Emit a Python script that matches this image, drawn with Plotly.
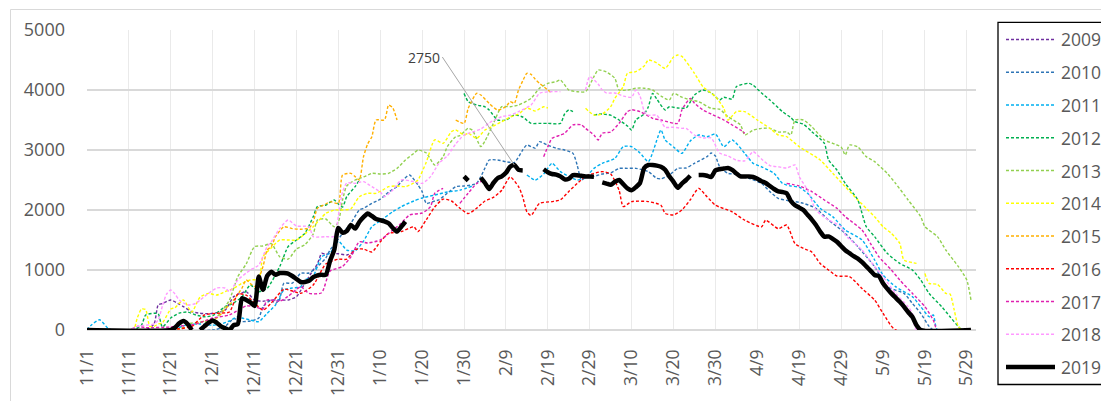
import plotly.graph_objects as go

# ---------------- data (day offset from 11/1, value) ----------------
tick_days = [0, 10, 20, 30, 40, 50, 60, 70, 80, 90, 100, 110, 120, 130, 140, 150, 160, 170, 180, 190, 200, 210]
tick_labels = ["11/1", "11/11", "11/21", "12/1", "12/11", "12/21", "12/31", "1/10", "1/20", "1/30", "2/9",
               "2/19", "2/29", "3/10", "3/20", "3/30", "4/9", "4/19", "4/29", "5/9", "5/19", "5/29"]

s2009 = [(0,0),(14,0),(16,100),(17,420),(18,440),(20,500),(22,430),(23,390),(25,306),(27,280),(29,270),(31,290),
         (33,333),(35,556),(37,620),(38,640),(40,500),(42,480),(44,500),(46,500),(48,500),(50,556),(52,778),(54,1000),
         (55,1100),(56,1278),(57,1260),(58,1280),(60,1270),(62,1250),(64,1300)]

s2010 = [(0,0),(30,0),(33,60),(35,190),(37,140),(39,150),(41,200),(42,389),(44,500),(45,440),(46,520),(47,778),
         (49,780),(51,944),(53,950),(55,1056),(57,1200),(58,1333),(59,1420),(61,1610),(63,1780),(65,2000),(66,2028),
         (68,2111),(70,2180),(72,2300),(74,2389),(75,2472),(77,2583),(79,2417),(80,2306),(81,2111),(83,2150),(84,2170),
         (86,2278),(88,2389),(90,2400),(92,2420),(93,2444),(94,2556),(95,2700),(96,2833),(98,2833),(100,2806),
         (102,2790),(104,3000),(105,3083),(107,3030),(108,3139),(110,3080),(112,3028),(114,3000),(116,2944),
         (117,2750),(118,2500),(119,2540),(121,2560),(123,2600),(125,2620),(127,2694),(129,2694),(131,2694),
         (134,2639),(136,2528),(137,2520),(139,2580),(141,2694),(143,2700),(145,2778),(148,2889),(149,2950),
         (150,2900),(151,2722),(153,2611),(156,2590),(158,2528),(161,2444),(163,2306),(165,2194),(167,2160),
         (169,2140),(171,2111),(174,2028),(177,1833),(181,1611),(184,1389),(188,1056),(191,722),(195,611),
         (197,444),(199,278),(201,60),(202,0),(211,0)]

s2011 = [(0,0),(1,80),(3,170),(5,30),(6,0),(20,0),(24,90),(27,100),(30,80),(32,100),(34,150),(36,222),(37,200),
         (39,167),(41,139),(43,278),(45,417),(47,667),(49,700),(51,720),(52,833),(54,900),(56,1222),(58,1278),
         (60,1480),(62,1333),(64,1320),(66,1480),(68,1722),(70,1820),(73,1972),(75,2056),(78,2150),(80,2200),
         (83,2250),(86,2300),(89,2330),(92,2400),(93,None),(105,2583),(107,2500),(109,2600),(111,2778),(113,2639),
         (115,2560),(117,2500),(119,2540),(121,2694),(123,2778),(126,2861),(128,3056),(130,3056),(132,2950),
         (134,2806),(137,3333),(138,3167),(140,3050),(142,2944),(144,3150),(146,3250),(148,3220),(150,3267),
         (152,3056),(154,3167),(157,2944),(159,2778),(161,2720),(164,2611),(166,2444),(168,2400),(170,2380),
         (172,2278),(175,2028),(178,1889),(181,1667),(185,1500),(188,1167),(190,917),(193,722),(197,556),
         (199,389),(201,222),(202,250),(203,0),(211,0)]

s2012 = [(0,0),(11,0),(13,80),(14,250),(16,280),(17,270),(18,50),(20,200),(22,280),(24,300),(26,250),(28,220),
         (30,240),(33,389),(35,450),(37,556),(39,750),(41,639),(43,694),(46,1056),(48,1389),(50,1500),(52,1611),
         (54,1889),(55,2056),(57,2083),(59,2167),(60,2100),(61,2050),(62,2222),(64,2389),(65,2500),(66,None),
         (90,3944),(91,3806),(93,3750),(95,3720),(96,3667),(98,3500),(100,3500),(102,3583),(104,3550),(106,3444),
         (108,3444),(110,3444),(113,3444),(114,3600),(115,3667),(116,3639),(117,None),(121,3583),(123,3600),
         (125,3580),(127,3500),(129,3400),(130,3333),(131,3500),(133,3600),(134,3722),(135,3944),(136,3850),
         (138,3667),(139,3720),(141,3700),(143,3700),(144,3800),(145,3917),(147,4000),(149,3950),(151,3833),
         (152,3880),(154,3850),(155,4056),(158,4111),(159,4080),(161,3950),(163,3833),(166,3639),(168,3540),
         (169,3472),(171,3430),(173,3306),(176,3111),(177,2833),(179,2667),(181,2444),(184,2167),(185,1944),
         (186,1722),(188,1556),(191,1278),(194,1111),(197,1000),(199,833),(201,611),(204,389),(206,222),(208,56),
         (209,0),(211,0)]

s2013 = [(0,0),(22,0),(24,100),(27,130),(30,150),(32,300),(34,500),(36,890),(38,1100),(40,1390),(42,1400),
         (44,1440),(46,1220),(48,1180),(50,1350),(52,1420),(54,1600),(55,1833),(57,1850),(59,1720),(60,1800),
         (61,2167),(62,2400),(64,2500),(66,2550),(68,2611),(70,2600),(72,2611),(74,2694),(76,2833),(78,2944),
         (79,3000),(81,2950),(83,2750),(85,2889),(86,3056),(88,3222),(89,3240),(91,3361),(92,3330),(94,3056),
         (95,3150),(97,3444),(99,3722),(101,3720),(103,3750),(106,3861),(108,4028),(110,4111),(112,4139),
         (113,4167),(115,4000),(117,3972),(119,3972),(121,4222),(122,4333),(124,4300),(126,4194),(127,4000),
         (129,4000),(131,4030),(133,4030),(135,4000),(137,3900),(139,3833),(140,3944),(142,3880),(144,3833),
         (146,3806),(149,3694),(151,3680),(153,3556),(156,3417),(157,3250),(159,3330),(161,3361),(163,3361),
         (165,3300),(167,3300),(168,3250),(169,3500),(171,3500),(173,3389),(176,3167),(178,3111),(180,3050),
         (181,2917),(182,3083),(184,3050),(186,2889),(188,2806),(191,2611),(193,2444),(196,2167),(199,1889),
         (200,1722),(203,1556),(205,1333),(208,1056),(210,833),(211,500)]

s2014 = [(0,0),(11,0),(12,200),(13,350),(14,340),(15,60),(16,60),(17,100),(18,120),(20,350),(21,370),(23,500),
         (25,300),(27,550),(29,610),(31,583),(33,640),(35,694),(37,780),(39,833),(41,850),(42,1220),(44,1370),
         (46,1500),(48,1500),(50,1500),(52,1600),(54,1722),(57,1944),(59,2000),(61,2000),(63,2020),(65,2222),
         (67,2278),(69,2278),(71,2350),(72,2389),(74,2400),(76,2390),(78,2450),(79,2500),(81,2800),(83,3170),
         (85,3111),(87,3306),(88,3333),(90,3250),(91,3280),(93,3194),(95,3333),(97,3400),(99,3472),(101,3550),
         (103,3600),(105,3700),(107,3650),(109,3720),(110,3700),(111,None),(119,3694),(121,3583),(123,3600),
         (125,3722),(126,3861),(128,4056),(129,4278),(131,4306),(133,4400),(134,4500),(136,4450),(138,4361),
         (140,4550),(141,4583),(142,4560),(145,4278),(147,4056),(150,3889),(152,3694),(153,3500),(155,3639),
         (157,3639),(160,3500),(163,3361),(165,3250),(167,3222),(170,3056),(175,2833),(178,2611),(181,2389),
         (184,2167),(186,2028),(188,1889),(190,1722),(192,1611),(194,1444),(195,1167),(198,1111),(199,None),
         (200,944),(201,778),(203,760),(205,611),(206,600),(207,333),(208,56),(209,0),(211,0)]

s2015 = [(0,0),(20,0),(24,50),(28,150),(31,200),(33,350),(35,500),(37,700),(38,833),(40,722),(42,1056),(43,1333),
         (44,1389),(45,1556),(47,1720),(49,1690),(51,1680),(53,1700),(54,1800),(55,2028),(57,2100),(58,2139),
         (60,2111),(61,2583),(63,2611),(64,2556),(65,2500),(66,2889),(67,3100),(68,3222),(69,3500),(71,3500),
         (72,3750),(73,3700),(74,3500),(75,None),(88,3500),(90,3444),(91,3694),(93,3944),(94,3917),(96,3778),
         (98,3667),(100,3722),(101,3806),(102,3778),(103,4000),(104,4150),(105,4278),(106,4260),(107,4180),
         (108,4111),(110,4000),(111,3944)]

s2016 = [(0,0),(18,0),(22,20),(25,60),(28,250),(31,280),(34,300),(36,600),(38,580),(40,450),(42,330),(44,450),
         (47,680),(49,650),(51,610),(54,750),(57,1100),(60,1180),(62,1180),(64,1340),(66,1350),(68,1300),(70,1470),
         (72,1610),(75,1640),(78,1720),(79,1640),(81,1840),(83,2050),(85,2180),(87,2150),(89,2030),(91,1940),
         (93,2030),(95,2150),(97,2210),(99,2330),(101,2550),(103,2390),(104,2220),(105,1970),(106,1910),(108,2110),
         (111,2140),(113,2170),(115,2310),(117,2440),(119,2560),(121,2610),(123,2640),(125,2600),(127,2330),
         (128,2056),(130,2140),(134,2140),(137,2080),(138,1944),(140,1917),(142,2000),(144,2170),(146,2360),
         (148,2220),(150,2080),(154,1970),(157,1830),(161,1720),(162,1830),(165,1690),(167,1750),(169,1440),
         (171,1360),(173,1300),(175,1110),(177,1000),(179,900),(182,890),(185,690),(188,500),(190,280),(193,0),
         (211,0)]

s2017 = [(0,0),(10,0),(12,60),(14,40),(20,50),(26,100),(30,200),(34,250),(38,400),(40,390),(42,350),(43,500),
         (46,480),(48,560),(51,720),(53,610),(56,620),(58,980),(61,1060),(63,1220),(65,1470),(67,1450),(70,1500),
         (72,1610),(75,1780),(77,1917),(80,1950),(82,2056),(83,2278),(85,2361),(86,None),(89,2111),(91,2280),
         (93,2440),(95,2500),(96,None),(109,2889),(110,3056),(111,3194),(113,3250),(114,3280),(116,3417),
         (118,3420),(119,3361),(121,3250),(122,3167),(123,3280),(125,3300),(127,3444),(129,3639),(130,3670),
         (132,3640),(135,3528),(137,3500),(141,3444),(142,3667),(144,3861),(145,3780),(147,3667),(149,3600),
         (152,3500),(154,3417),(156,3333),(157,3278),(158,None),(167,2444),(170,2400),(173,2306),(176,2167),
         (179,2028),(181,1889),(185,1667),(187,1444),(189,1222),(192,1000),(194,833),(197,611),(200,389),
         (202,167),(203,0),(211,0)]

s2018 = [(0,0),(10,0),(12,60),(14,80),(16,100),(17,167),(18,400),(19,600),(20,667),(21,600),(22,500),(24,417),
         (26,444),(27,500),(29,610),(31,700),(33,700),(34,640),(36,833),(38,950),(39,1000),(41,1083),(43,1389),
         (44,1472),(46,1694),(48,1833),(50,1733),(53,1722),(54,1556),(57,1556),(59,1560),(60,1900),(61,2300),
         (62,2450),(64,2444),(66,2472),(68,2389),(70,2300),(71,2222),(73,2333),(75,2500),(78,2472),(80,2444),
         (82,2556),(84,2778),(86,2900),(88,3100),(90,3250),(92,3300),(94,3350),(96,3450),(99,3556),(101,3580),
         (103,3639),(106,3750),(108,3944),(110,3970),(113,3972),(114,None),(119,4000),(120,4222),(122,4100),
         (123,4000),(124,3950),(126,3950),(128,3900),(130,3880),(131,4000),(132,3900),(133,3650),(134,3580),
         (136,3580),(138,3380),(140,3380),(142,3361),(143,3361),(145,3250),(147,3200),(149,3200),(151,2950),
         (153,2900),(155,2830),(157,2820),(159,2972),(161,2850),(163,2740),(165,2720),(167,2700),(169,2750),
         (170,2556),(172,2333),(174,2000),(177,1833),(180,1722),(181,1583),(185,1333),(188,1056),(190,889),
         (193,611),(196,389),(197,278),(198,0),(211,0)]

s2019 = [(0,0),(20,0),(21,40),(22,110),(23,150),(24,100),(25,0),(26,None),(27,0),(28,60),(29,120),(30,160),
         (31,120),(32,60),(33,30),(34,0),(35,80),(36,100),(37,530),(38,500),(39,460),(40,400),(41,890),(42,670),
         (43,900),(44,970),(45,920),(46,950),(47,950),(48,940),(49,900),(50,850),(51,800),(52,800),(53,820),
         (54,880),(55,910),(56,920),(57,920),(58,1150),(59,1330),(60,1700),(61,1620),(62,1650),(63,1750),(64,1690),
         (65,1800),(66,1880),(67,1940),(68,1900),(69,1850),(70,1830),(71,1810),(72,1780),(73,1700),(74,1640),
         (75,1720),(76,1806),(77,None),(90,2560),(91,2490),(92,None),(94,2540),(95,2450),(96,2350),(97,2450),
         (98,2530),(99,2560),(100,2620),(101,2720),(102,2750),(103,2670),(104,2660),(105,None),(109,2680),
         (110,2630),(111,2600),(112,2590),(113,2560),(114,2510),(115,2520),(116,2580),(117,2580),(118,2570),
         (119,2560),(120,2560),(121,2556),(122,None),(123,2460),(124,2440),(125,2420),(126,2470),(127,2500),
         (128,2430),(129,2360),(130,2330),(131,2380),(132,2450),(133,2700),(134,2750),(135,2750),(136,2740),
         (137,2720),(138,2670),(139,2560),(140,2470),(141,2370),(142,2440),(143,2500),(144,2570),(145,None),
         (146,2583),(147,2583),(148,2570),(149,2550),(150,2660),(151,2680),(152,2690),(153,2700),(154,2670),
         (155,2610),(156,2560),(157,2560),(158,2560),(159,2550),(160,2520),(161,2480),(162,2450),(163,2400),
         (164,2350),(165,2310),(166,2300),(167,2280),(168,2150),(169,2080),(170,2040),(171,2000),(172,1920),
         (173,1840),(174,1750),(175,1640),(176,1556),(177,1560),(178,1520),(179,1470),(180,1400),(181,1330),
         (182,1280),(183,1230),(184,1190),(185,1130),(186,1060),(187,990),(188,917),(189,900),(190,780),(191,690),
         (192,610),(193,540),(194,470),(195,390),(196,300),(197,220),(198,80),(199,0),(211,0)]

series_names = ["2009", "2010", "2011", "2012", "2013", "2014", "2015", "2016", "2017", "2018", "2019"]
series_data = [s2009, s2010, s2011, s2012, s2013, s2014, s2015, s2016, s2017, s2018, s2019]
series_colors = ["#7030A0", "#2E75B6", "#00B0F0", "#00B050", "#92D050", "#FFFF00", "#FFB000",
                 "#FF0000", "#E020B0", "#FF99FF", "#000000"]

callout_day, callout_value = 102, 2750

# ---------------- figure ----------------
OFF = 8  # page body margin offset of the rendered figure
W, H = 1109 - OFF, 401 - OFF
L, T = 87 - OFF, 30 - OFF
pw, ph = 889, 300
R, B = W - L - pw, H - T - ph

def px(xs):  # screen x -> paper
    return (xs - OFF - L) / pw

def py(ys):  # screen y -> paper
    return (T + ph - (ys - OFF)) / ph

TXT = "#595959"
FONT = "Open Sans"

fig = go.Figure()
for name, data, col in zip(series_names, series_data, series_colors):
    xs = [d for d, v in data]
    ys = [v for d, v in data]
    bold = name == "2019"
    fig.add_trace(go.Scatter(
        x=xs, y=ys, mode="lines", name=name, connectgaps=False, showlegend=False,
        line=dict(color=col, width=4.5 if bold else 1.4, dash="solid" if bold else "3px,2px",
                  shape="spline", smoothing=0.6),
    ))

shapes = []
annotations = []
# outer chart border
shapes.append(dict(type="rect", xref="paper", yref="paper", x0=px(10.5), x1=px(1130), y0=py(420), y1=py(9.5),
                   line=dict(color="#D9D9D9", width=1), fillcolor="rgba(0,0,0,0)", layer="below"))
# legend box
shapes.append(dict(type="rect", xref="paper", yref="paper", x0=px(998), x1=px(1107.3), y0=py(384.5), y1=py(22.3),
                   line=dict(color="#000000", width=1.3), fillcolor="rgba(0,0,0,0)"))
for i, (name, col) in enumerate(zip(series_names, series_colors)):
    yy = py(39.5 + 32.75 * i)
    bold = name == "2019"
    shapes.append(dict(type="line", xref="paper", yref="paper", x0=px(1006), x1=px(1055), y0=yy, y1=yy,
                       line=dict(color=col, width=4.5 if bold else 1.4, dash="solid" if bold else "3px,2px")))
    annotations.append(dict(xref="paper", yref="paper", x=px(1059), y=yy, text=name, showarrow=False,
                            xanchor="left", yanchor="middle", font=dict(family=FONT, size=17.5, color=TXT)))

annotations.append(dict(x=callout_day, y=callout_value, xref="x", yref="y", text=str(callout_value),
                        showarrow=True, arrowhead=0, arrowwidth=1, arrowcolor="#A6A6A6", standoff=0,
                        ax=-72, ay=-108, xanchor="right", yanchor="middle",
                        font=dict(family=FONT, size=14, color="#404040")))

fig.update_layout(
    width=W, height=H, margin=dict(l=L, r=R, t=T, b=B, autoexpand=False),
    paper_bgcolor="white", plot_bgcolor="white",
    font=dict(family=FONT, color=TXT),
    shapes=shapes, annotations=annotations, showlegend=False,
    xaxis=dict(range=[0, 212.2], tickmode="array", tickvals=tick_days, ticktext=tick_labels, tickangle=-90,
               showgrid=True, gridcolor="#EAEAEA", gridwidth=1, zeroline=False, showline=False,
               ticks="", ticklabelstandoff=15, tickfont=dict(family=FONT, size=17.5, color=TXT)),
    yaxis=dict(range=[0, 5000], tickmode="linear", tick0=0, dtick=1000, showgrid=True, gridcolor="#D9D9D9",
               gridwidth=1.5, zeroline=True, zerolinecolor="#D9D9D9", zerolinewidth=1.5, showline=False,
               ticks="", ticklabelstandoff=21, tickfont=dict(family=FONT, size=18, color=TXT)),
)

fig.write_html("out.html")
